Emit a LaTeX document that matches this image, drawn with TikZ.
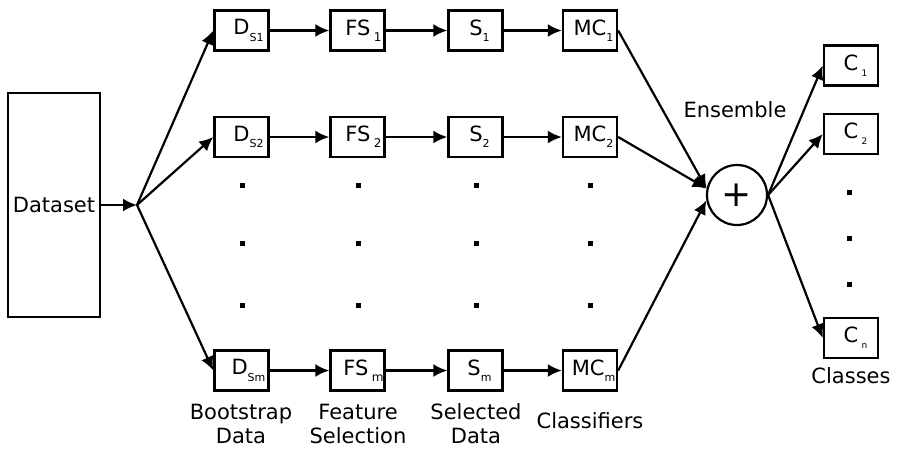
\documentclass[tikz,border=0pt]{standalone}
\usepackage{fontspec}
\setmainfont{DejaVu Sans}
\usetikzlibrary{arrows.meta}
\newcommand\subtxt[2][11]{\raisebox{-0.3em}{\fontsize{#1}{#1}\selectfont #2}}
\begin{document}
\begin{tikzpicture}[x=1pt,y=-1pt,
  box/.style={draw, line width=2.4pt, minimum width=54pt, minimum height=40pt, inner sep=0pt, font=\fontsize{21}{25}\selectfont},
  arr/.style={-{Latex[length=14pt,width=13pt]}, line width=2.2pt},
  lbl/.style={font=\fontsize{21}{24}\selectfont, align=center, inner sep=0pt},
  dot/.style={fill, rectangle, minimum size=5pt, inner sep=0pt}]
\useasboundingbox (0,0) rectangle (898,450);

% dataset
\node[box, minimum width=92pt, minimum height=224pt] (ds) at (54,205) {Dataset};
\coordinate (split) at (137,205);

% rows
\node[box] (d1) at (241.5,30.5) {\hspace{14pt}D\subtxt{S1}};
\node[box] (f1) at (357.5,30.5) {\hspace{12pt}FS\,\subtxt[12]{1}};
\node[box] (s1) at (475.5,30.5) {\hspace{8pt}S\subtxt{1}};
\node[box] (m1) at (590,30.5) {\hspace{7pt}MC\subtxt{1}};

\node[box] (d2) at (241.5,137) {\hspace{14pt}D\subtxt{S2}};
\node[box] (f2) at (357.5,137) {\hspace{12pt}FS\,\subtxt[12]{2}};
\node[box] (s2) at (475.5,137) {\hspace{8pt}S\subtxt{2}};
\node[box] (m2) at (590,137) {\hspace{7pt}MC\subtxt{2}};

\node[box] (dm) at (241.5,370.5) {\hspace{14pt}D\subtxt{Sm}};
\node[box] (fm) at (357.5,370.5) {\hspace{12pt}FS\,\subtxt[12]{m}};
\node[box] (sm) at (475.5,370.5) {\hspace{8pt}S\subtxt{m}};
\node[box] (mm) at (590,370.5) {\hspace{7pt}MC\subtxt{m}};

% dots in the middle columns
\foreach \x/\n in {242/a,358/b,476/c,590/d}{
  \foreach \y/\k in {185/1,243/2,305/3}{
    \node[dot] (dot\n\k) at (\x,\y) {};
  }
}

% ensemble
\node[draw, circle, line width=2.2pt, minimum size=60pt, inner sep=0pt] (ens) at (737,195) {\fontsize{36}{36}\selectfont +};
\node[lbl] (enslbl) at (735,110) {Ensemble};

% classes
\node[box] (c1) at (851,65.5) {\hspace{9pt}C\,\subtxt[9]{1}};
\node[box] (c2) at (851,134) {\hspace{9pt}C\,\subtxt[9]{2}};
\node[box] (cn) at (851,338) {\hspace{9pt}C\,\subtxt[9]{n}};
\foreach \y/\k in {192/1,238/2,284/3}{
  \node[dot] (cdot\k) at (849,\y) {};
}

% labels
\node[lbl] (lb1) at (241,424) {Bootstrap\\Data};
\node[lbl] (lb2) at (358,424) {Feature\\Selection};
\node[lbl] (lb3) at (476,424) {Selected\\Data};
\node[lbl] (lb4) at (590,421) {Classifiers};
\node[lbl] (lb5) at (851,376) {Classes};

% connectors
\draw[arr] (ds.east) -- (split);
\draw[arr] (split) -- (d1.west);
\draw[arr] (split) -- (d2.west);
\draw[arr] (split) -- (dm.west);
\foreach \r in {1,2,m}{
  \draw[arr] (d\r) -- (f\r);
  \draw[arr] (f\r) -- (s\r);
  \draw[arr] (s\r) -- (m\r);
}
\draw[arr] (m1.east) -- (ens.168);
\draw[arr] (m2.east) -- (ens.168);
\draw[arr] (mm.east) -- (ens.190);
\draw[arr] (ens.east) -- (c1.west);
\draw[arr] (ens.east) -- (c2.west);
\draw[arr] (ens.east) -- (cn.west);
\end{tikzpicture}
\end{document}
